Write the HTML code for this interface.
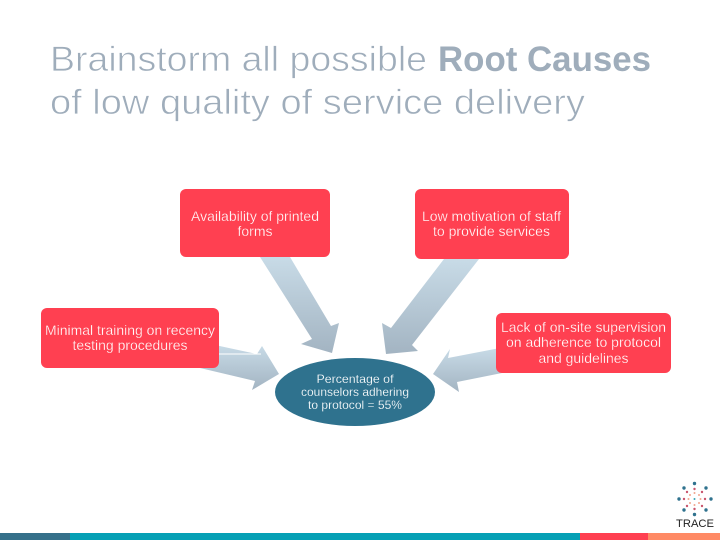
<!DOCTYPE html>
<html><head><meta charset="utf-8"><style>
html,body{margin:0;padding:0;background:#fff;width:720px;height:540px;overflow:hidden}
svg{display:block;font-family:"Liberation Sans",sans-serif}
.t{fill:#9fadbb;font-size:35px}
.l{stroke:#fff;stroke-width:.7px}
.b{fill:#fff;font-size:14px;text-anchor:middle;stroke:#ff4051;stroke-width:.25px}
.e{fill:#fff;font-size:12px;text-anchor:middle;stroke:#2f728e;stroke-width:.15px}
</style></head><body>
<svg width="720" height="540" viewBox="0 0 720 540" xmlns="http://www.w3.org/2000/svg">
<defs>
<linearGradient id="g" x1="0" y1="0" x2="0" y2="1"><stop offset="0" stop-color="#c8dbe7"/><stop offset="1" stop-color="#a3b4c2"/></linearGradient>
</defs>
<text class="t l" x="50" y="71" textLength="377" lengthAdjust="spacingAndGlyphs">Brainstorm all possible</text>
<text class="t" x="438" y="71" font-weight="bold" textLength="213" lengthAdjust="spacingAndGlyphs">Root Causes</text>
<text class="t l" x="50" y="114" textLength="535" lengthAdjust="spacingAndGlyphs">of low quality of service delivery</text>

<polygon fill="url(#g)" points="260,257 290,257 331,326 339,323 332,353 301,344 312,339"/>
<polygon fill="url(#g)" points="444,259 479,259 412,345 418,351 386,354 382,323 391,328"/>
<polygon fill="url(#g)" points="500,348 502,373 457,382 459,392 433,374 450,349 448,358"/>
<polygon fill="url(#g)" points="215,345 257,354 262,346 279,374 252,390 255,381 200,368"/>
<rect x="219" y="353.500" width="42" height="1" fill="#fff"/>

<rect x="180" y="189" width="150" height="68" rx="6" fill="#ff4051"/>
<rect x="415" y="189" width="154" height="70" rx="6" fill="#ff4051"/>
<rect x="41" y="308" width="178" height="60" rx="6" fill="#ff4051"/>
<rect x="496" y="313" width="175" height="60" rx="6" fill="#ff4051"/>
<ellipse cx="355" cy="392" rx="80" ry="34" fill="#2f728e"/>

<text class="b" x="255" y="221" textLength="128" lengthAdjust="spacingAndGlyphs">Availability of printed</text>
<text class="b" x="255" y="236">forms</text>
<text class="b" x="491.500" y="221" textLength="139" lengthAdjust="spacingAndGlyphs">Low motivation of staff</text>
<text class="b" x="491.500" y="236" textLength="117" lengthAdjust="spacingAndGlyphs">to provide services</text>
<text class="b" x="130" y="335" textLength="170" lengthAdjust="spacingAndGlyphs">Minimal training on recency</text>
<text class="b" x="130" y="350" textLength="115" lengthAdjust="spacingAndGlyphs">testing procedures</text>
<text class="b" x="583.500" y="332" textLength="165" lengthAdjust="spacingAndGlyphs">Lack of on-site supervision</text>
<text class="b" x="583.500" y="347" textLength="155" lengthAdjust="spacingAndGlyphs">on adherence to protocol</text>
<text class="b" x="583.500" y="363" textLength="90" lengthAdjust="spacingAndGlyphs">and guidelines</text>
<text class="e" x="355" y="383" textLength="77" lengthAdjust="spacingAndGlyphs">Percentage of</text>
<text class="e" x="355" y="396" textLength="108" lengthAdjust="spacingAndGlyphs">counselors adhering</text>
<text class="e" x="355" y="409" textLength="94" lengthAdjust="spacingAndGlyphs">to protocol = 55%</text>

<g fill="#2f728e">
<circle cx="694.500" cy="483.500" r="1.700"/><circle cx="706" cy="488" r="1.700"/><circle cx="711" cy="499" r="1.700"/><circle cx="706" cy="510" r="1.700"/>
<circle cx="694.500" cy="514.500" r="1.700"/><circle cx="684" cy="510" r="1.700"/><circle cx="679" cy="499" r="1.700"/><circle cx="684" cy="488" r="1.700"/>
</g>
<g fill="#c9566e">
<circle cx="694.500" cy="489" r="1.200"/><circle cx="702" cy="492" r="1.200"/><circle cx="705" cy="499" r="1.200"/><circle cx="702" cy="506" r="1.200"/>
<circle cx="694.500" cy="509" r="1.200"/><circle cx="687" cy="506" r="1.200"/><circle cx="684" cy="499" r="1.200"/><circle cx="687" cy="492" r="1.200"/>
</g>
<g fill="#f2a48c">
<circle cx="694.500" cy="493" r="1"/><circle cx="699" cy="495" r="1"/><circle cx="700.500" cy="499" r="1"/><circle cx="699" cy="503" r="1"/>
<circle cx="694.500" cy="505" r="1"/><circle cx="690" cy="503" r="1"/><circle cx="688.500" cy="499" r="1"/><circle cx="690" cy="495" r="1"/>
</g>
<circle cx="694.500" cy="499" r="1" fill="#3aa6b5"/>
<text x="695" y="527" font-size="11" fill="#222" text-anchor="middle" textLength="38" lengthAdjust="spacingAndGlyphs">TRACE</text>

<rect x="0" y="533" width="70" height="7" fill="#35708a"/>
<rect x="70" y="533" width="510" height="7" fill="#06a0b5"/>
<rect x="580" y="533" width="68" height="7" fill="#ff4051"/>
<rect x="648" y="533" width="72" height="7" fill="#ff8a65"/>
</svg>
</body></html>
